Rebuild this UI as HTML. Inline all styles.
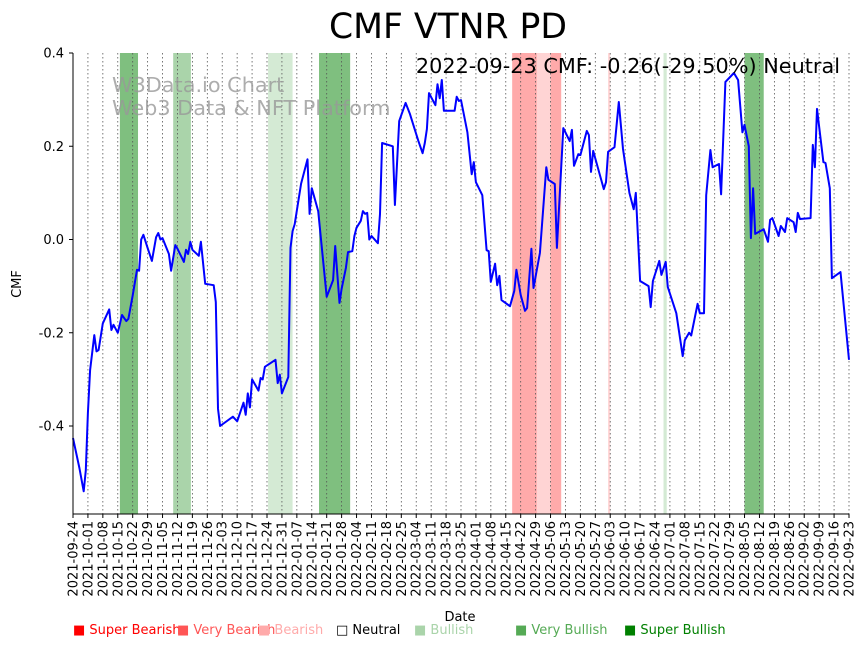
<!DOCTYPE html>
<html><head><meta charset="utf-8"><style>
body{margin:0;background:#fff;font-family:"DejaVu Sans","Liberation Sans",sans-serif;}
svg text{font-family:"DejaVu Sans","Liberation Sans",sans-serif;}
</style></head><body>
<svg id="chart" width="864" height="646" xmlns="http://www.w3.org/2000/svg">
<g id="bands"></g>
<g id="grid"></g>
<text x="112" y="92" font-size="20.8" fill="#999" fill-opacity="0.8">W3Data.io Chart</text>
<text x="112" y="115" font-size="20.8" fill="#999" fill-opacity="0.8">Web3 Data &amp; NFT Platform</text>
<path id="line" fill="none" stroke="#0000ff" stroke-width="2" stroke-linejoin="round"/>
<g id="axes"></g>
<text x="448" y="38" font-size="34.6" text-anchor="middle">CMF VTNR PD</text>
<text x="840" y="73" font-size="20.8" text-anchor="end">2022-09-23 CMF: -0.26(-29.50%) Neutral</text>
<text x="21" y="284" font-size="13" text-anchor="middle" transform="rotate(-90 21 284)">CMF</text>
<text x="460" y="621" font-size="13" text-anchor="middle">Date</text>
<g id="legend" font-size="13">
<text x="73" y="634" fill="#ff0000">■ Super Bearish</text>
<text x="177" y="634" fill="#ff5555">■ Very Bearish</text>
<text x="258" y="634" fill="#ffaaaa">■ Bearish</text>
<text x="336" y="634" fill="#000">□ Neutral</text>
<text x="414" y="634" fill="#aad4aa">■ Bullish</text>
<text x="515" y="634" fill="#55aa55">■ Very Bullish</text>
<text x="624" y="634" fill="#008000">■ Super Bullish</text>
</g>
</svg>
<script>
const days=[0,3,5,6,7,8,10,11,12,14,17,18,19,21,23,25,26,28,30,31,32,33,35,37,39,40,41,42,45,46,48,49,52,53,54,55,56,59,60,62,66,67,68,69,75,77,80,81,82,83,84,87,88,89,90,95,96,97,98,101,102,103,104,107,110,111,112,115,119,122,123,125,126,128,129,131,132,133,135,136,137,138,139,140,143,144,145,150,151,153,156,158,162,164,165,166,167,170,171,172,173,174,179,180,181,182,185,187,188,189,192,194,195,196,198,199,200,201,205,207,208,210,212,213,215,216,219,222,223,226,227,230,233,234,235,237,238,241,242,243,244,249,250,251,254,256,258,261,263,264,266,270,271,272,275,276,278,279,283,286,287,289,290,293,294,296,297,299,300,303,304,306,310,312,314,315,317,318,319,320,324,326,327,328,331,332,334,335,338,339,340,341,346,347,348,349,352,353,355,356,360,364];
const values=[-0.426,-0.49,-0.54,-0.495,-0.372,-0.28,-0.205,-0.24,-0.237,-0.18,-0.15,-0.194,-0.183,-0.2,-0.162,-0.175,-0.17,-0.12,-0.065,-0.067,0.0,0.01,-0.018,-0.046,0.005,0.014,0.0,0.003,-0.031,-0.067,-0.012,-0.02,-0.048,-0.022,-0.031,-0.005,-0.022,-0.035,-0.005,-0.095,-0.098,-0.134,-0.363,-0.4,-0.38,-0.39,-0.35,-0.376,-0.33,-0.36,-0.3,-0.324,-0.297,-0.3,-0.273,-0.258,-0.308,-0.29,-0.33,-0.295,-0.018,0.018,0.033,0.12,0.172,0.055,0.11,0.061,-0.123,-0.087,-0.014,-0.136,-0.106,-0.061,-0.027,-0.025,0.0075,0.025,0.04,0.061,0.055,0.057,0.0,0.0075,-0.008,0.055,0.207,0.2,0.074,0.254,0.293,0.27,0.211,0.185,0.207,0.237,0.314,0.288,0.333,0.303,0.342,0.276,0.276,0.306,0.297,0.299,0.23,0.14,0.166,0.123,0.095,-0.023,-0.025,-0.091,-0.052,-0.098,-0.078,-0.13,-0.143,-0.11,-0.065,-0.119,-0.153,-0.147,-0.02,-0.104,-0.029,0.155,0.128,0.119,-0.018,0.239,0.211,0.235,0.158,0.183,0.181,0.233,0.224,0.145,0.19,0.108,0.123,0.188,0.198,0.295,0.194,0.1,0.065,0.1,-0.089,-0.1,-0.145,-0.089,-0.046,-0.076,-0.048,-0.102,-0.158,-0.25,-0.216,-0.2,-0.206,-0.138,-0.158,-0.158,0.095,0.192,0.155,0.162,0.097,0.338,0.357,0.342,0.23,0.246,0.2,0.003,0.11,0.012,0.022,-0.005,0.042,0.046,0.0075,0.029,0.016,0.046,0.037,0.016,0.057,0.044,0.046,0.203,0.155,0.28,0.166,0.164,0.11,-0.083,-0.07,-0.258];
const bandStart=[22,47,91.5,115.4,206,217.6,224,251,277,315];
const bandEnd=[30.5,55.3,103,130,217.6,224,229,252,278.5,324];
const bandType=["superbull","bull","lightbull","superbull","verybear","bear","verybear","bear","lightbull","superbull"];
const bandColors={superbull:"#7fbf7f",bull:"#aad4aa",lightbull:"#d4ead4",verybear:"#ffaaaa",bear:"#ffd4d4"};
const yTicks=[0.4,0.2,0.0,-0.2,-0.4];
const startDate=new Date(Date.UTC(2021,8,24));
const X0=73,X1=849,Y0=53,Y1=514,NDAYS=364;
const xs=d=>X0+d*(X1-X0)/NDAYS;
const ys=v=>239.5-v*466.25;
const NS="http://www.w3.org/2000/svg";
function mk(t,a,p){const e=document.createElementNS(NS,t);for(const k in a)e.setAttribute(k,a[k]);p.appendChild(e);return e;}
const bands=document.getElementById('bands');
bandStart.forEach((s,i)=>{const r=mk('rect',{x:xs(s),y:Y0,width:xs(bandEnd[i])-xs(s),height:Y1-Y0,fill:bandColors[bandType[i]]},bands);

});
const grid=document.getElementById('grid'),axes=document.getElementById('axes');
for(let d=0;d<=NDAYS;d+=7){const x=xs(d);
const gl=mk('line',{x1:x,x2:x,y1:Y0,y2:Y1,stroke:'#555','stroke-width':0.8,'stroke-dasharray':'1.5,2.5'},grid);


mk('line',{x1:x,x2:x,y1:Y1,y2:Y1+4,stroke:'#000'},axes);
const dt=new Date(startDate.getTime()+d*86400000);
const lbl=dt.toISOString().slice(0,10);
const t=mk('text',{x:x+4.5,y:Y1+7,'font-size':13,'text-anchor':'end',transform:`rotate(-90 ${x+4.5} ${Y1+7})`},axes);
t.textContent=lbl;

}
yTicks.forEach(v=>{const y=ys(v);mk('line',{x1:X0-4,x2:X0,y1:y,y2:y,stroke:'#000'},axes);
const t=mk('text',{x:X0-9,y:y+4.5,'font-size':13,'text-anchor':'end'},axes);t.textContent=v.toFixed(1);

});
mk('line',{x1:X0,x2:X0,y1:Y0,y2:Y1,stroke:'#000','stroke-width':1},axes);
mk('line',{x1:X0,x2:X1,y1:Y1,y2:Y1,stroke:'#000','stroke-width':1},axes);
document.getElementById('line').setAttribute('d',days.map((d,i)=>(i?'L':'M')+xs(d).toFixed(1)+','+ys(values[i]).toFixed(1)).join(''));
</script>
</body></html>
